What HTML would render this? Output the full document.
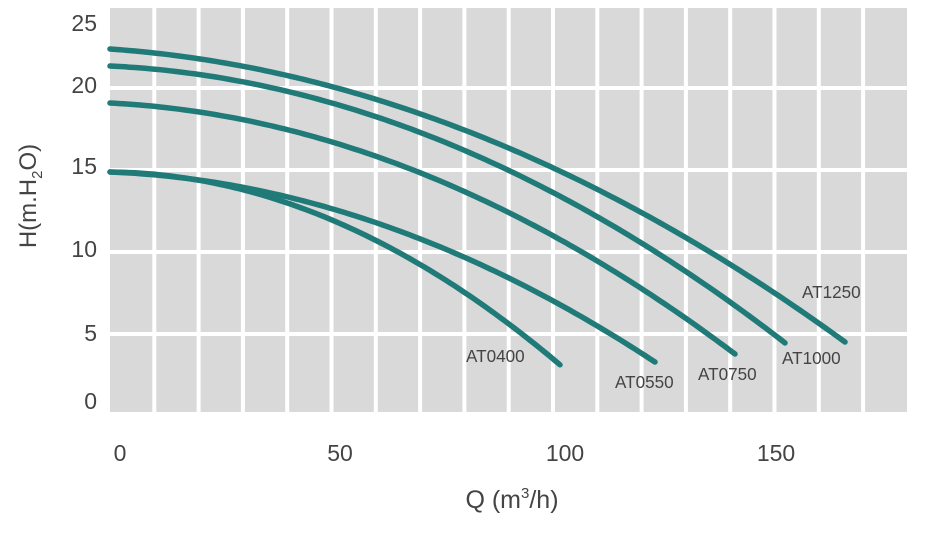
<!DOCTYPE html>
<html><head><style>
body{margin:0;background:#fff;width:936px;height:544px;overflow:hidden;font-family:"DejaVu Sans","Liberation Sans",sans-serif;}
</style></head><body>
<svg width="936" height="544" xmlns="http://www.w3.org/2000/svg">
<rect x="110" y="8" width="797" height="404" fill="#d9d9d9"/>
<g id="grid" fill="#fff"></g>
<g id="curves" fill="none" stroke="#1f7a78" stroke-width="5.5" stroke-linecap="round"></g>
<g font-size="23" fill="#444" text-anchor="end" font-family="Liberation Sans, sans-serif">
<text x="97" y="31">25</text><text x="97" y="93">20</text><text x="97" y="174">15</text>
<text x="97" y="257">10</text><text x="97" y="341">5</text><text x="97" y="409">0</text>
</g>
<g font-size="23" fill="#444" text-anchor="middle" font-family="Liberation Sans, sans-serif">
<text x="120" y="461">0</text><text x="340" y="461">50</text><text x="565" y="461">100</text><text x="776" y="461">150</text>
<text x="512" y="508" font-size="25">Q (m<tspan font-size="15" dy="-10">3</tspan><tspan dy="10">/h)</tspan></text>
</g>
<text transform="translate(36,196) rotate(-90)" font-size="24" fill="#444" text-anchor="middle" font-family="Liberation Sans, sans-serif">H(m.H<tspan font-size="15" dy="6">2</tspan><tspan dy="-6">O)</tspan></text>
<g font-size="18" fill="#444" font-family="Liberation Sans, sans-serif">
<text transform="translate(466,362) scale(0.95,1)">AT0400</text>
<text transform="translate(615,388) scale(0.95,1)">AT0550</text>
<text transform="translate(698,380) scale(0.95,1)">AT0750</text>
<text transform="translate(782,364) scale(0.95,1)">AT1000</text>
<text transform="translate(802,298) scale(0.95,1)">AT1250</text>
</g>
</svg>
<script>
var ns="http://www.w3.org/2000/svg";
var g=document.getElementById("grid");
for(var i=1;i<18;i++){var r=document.createElementNS(ns,"rect");r.setAttribute("x",110+i*44.3-2);r.setAttribute("y",8);r.setAttribute("width",4);r.setAttribute("height",404);g.appendChild(r);}
[88,170,252,334].forEach(function(y){var r=document.createElementNS(ns,"rect");r.setAttribute("x",110);r.setAttribute("y",y-2);r.setAttribute("width",797);r.setAttribute("height",4);g.appendChild(r);});
var cs=[[49,0.0705,4.464e-4,735],[66,0.0477,5.37e-4,675],[103,0.051,5.61e-4,625],[172,0.0397,5.67e-4,545],[172,0.01,9.3e-4,453]];
var cg=document.getElementById("curves");
cs.forEach(function(c){var d="";for(var dx=0;dx<=c[3];dx+=5){var x=110+dx,y=c[0]+c[1]*dx+c[2]*dx*dx;d+=(dx?"L":"M")+x+" "+y.toFixed(1);}
var p=document.createElementNS(ns,"path");p.setAttribute("d",d);cg.appendChild(p);});
</script>
</body></html>
